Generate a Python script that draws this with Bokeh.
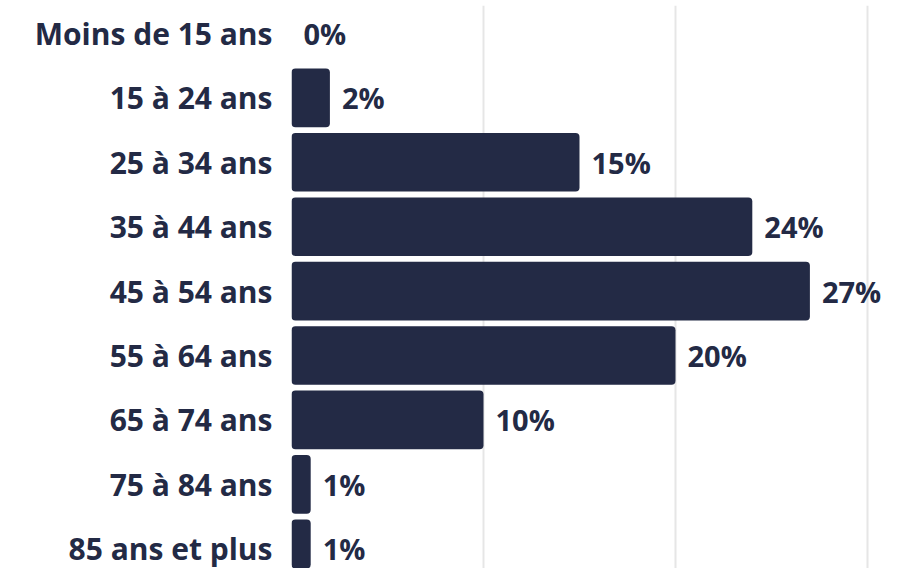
from bokeh.plotting import figure
from bokeh.models import ColumnDataSource, Range1d, FixedTicker
from bokeh.core.properties import value
from bokeh.embed import file_html
from bokeh.resources import INLINE

categories = ["Moins de 15 ans", "15 à 24 ans", "25 à 34 ans", "35 à 44 ans",
              "45 à 54 ans", "55 à 64 ans", "65 à 74 ans", "75 à 84 ans",
              "85 ans et plus"]
values = [0, 2, 15, 24, 27, 20, 10, 1, 1]
grid_ticks = [0, 10, 20, 30]

NAVY = "#232a45"
FONT = "Open Sans"

n = len(categories)
ypos = [n - 1 - i for i in range(n)]
labels = [f"{v}%" for v in values]

src = ColumnDataSource(dict(y=ypos, v=values, lab=labels))

p = figure(width=891, height=568, output_backend="svg", toolbar_location=None,
           x_range=Range1d(0, 31.25), y_range=Range1d(-0.307, 8.435),
           min_border_left=291, min_border_right=0, min_border_top=5, min_border_bottom=0)
p.outline_line_color = None
p.background_fill_color = "white"
p.border_fill_color = "white"

p.hbar(y="y", right="v", left=0, height=0.91, source=src, fill_color=NAVY,
       line_color=None, border_radius=4)
p.text(x="v", y="y", text="lab", source=src, x_offset=12,
       text_font=value(FONT), text_font_style="bold", text_font_size="29px",
       text_color=NAVY, text_align="left", text_baseline="middle")

p.xaxis.visible = False
p.xgrid.ticker = FixedTicker(ticks=grid_ticks)
p.xgrid.grid_line_color = "#e6e6e6"
p.xgrid.grid_line_width = 2
p.ygrid.visible = False

ya = p.yaxis[0]
ya.ticker = FixedTicker(ticks=ypos)
ya.major_label_overrides = {y: c for y, c in zip(ypos, categories)}
ya.axis_line_color = None
ya.major_tick_line_color = None
ya.minor_tick_line_color = None
ya.major_tick_out = 0
ya.major_label_standoff = 19
ya.major_label_text_font = FONT
ya.major_label_text_font_style = "bold"
ya.major_label_text_font_size = "30px"
ya.major_label_text_color = NAVY

open("out.html", "w").write(file_html(p, INLINE))
